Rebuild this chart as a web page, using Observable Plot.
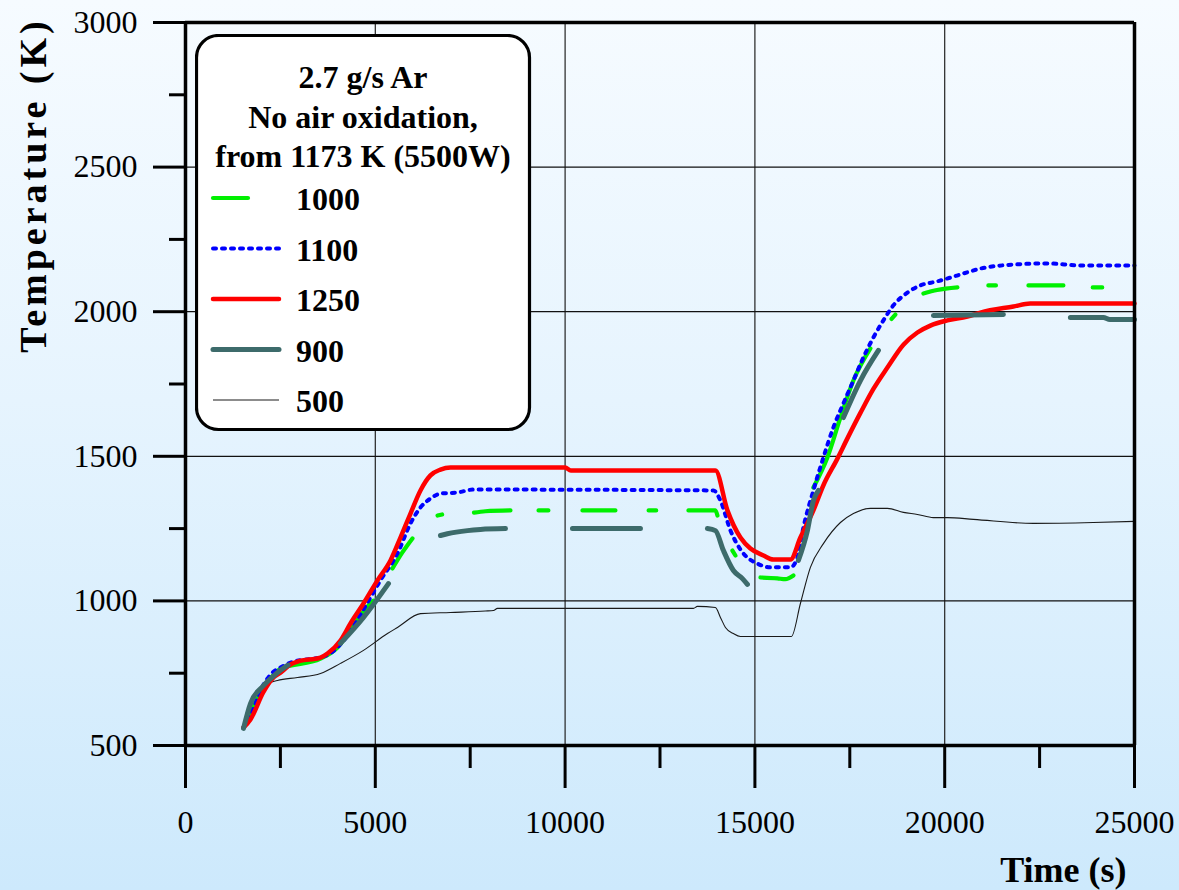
<!DOCTYPE html>
<html><head><meta charset="utf-8">
<script src="https://cdn.jsdelivr.net/npm/d3@7"></script>
<script src="https://cdn.jsdelivr.net/npm/@observablehq/plot@0.6"></script>
<style>
html,body{margin:0;padding:0;}
body{width:1179px;height:890px;overflow:hidden;position:relative;
  background:linear-gradient(to bottom,#f6fbff 0%,#e6f4fe 45%,#cde9fc 100%);
  font-family:"Liberation Serif","Times New Roman",serif;}
#chart{position:absolute;left:0;top:0;}
#legend{position:absolute;left:195px;top:34px;}
</style></head><body>
<div id="chart"></div>
<svg id="legend" width="337" height="398"></svg>
<script>
// ---- data (time in s, temperature in K); NaN marks a gap in the recorded trace ----
const seriesNames = ["1000", "1100", "1250", "900", "500"];
const legendTitle = ["2.7 g/s Ar", "No air oxidation,", "from 1173 K (5500W)"];
const xTicks = [0, 5000, 10000, 15000, 20000, 25000];
const xMinorTicks = [2500, 7500, 12500, 17500, 22500];
const yTicks = [500, 1000, 1500, 2000, 2500, 3000];
const yMinorTicks = [750, 1250, 1750, 2250, 2750];

const t1250 = [1528,1712,2054,2318,2502,2766,2950,3556,3740,4083,4346,4689,5057,5400,5663,5927,6190,6453,6717,6980,10000,10150,13960,14276,14619,14882,15225,15488,15936,16199,16541,16805,17174,17437,17780,18122,18491,18913,19281,19623,20071,20598,20940,21810,22254,25000];
const T1250 = [562,590,685,735,752,780,790,804,818,863,922,991,1071,1140,1219,1302,1382,1434,1454,1461,1461,1451,1451,1313,1219,1181,1157,1143,1143,1219,1313,1400,1492,1562,1650,1733,1807,1886,1928,1952,1970,1983,1997,2018,2028,2028];

const t1100 = [1528,1712,2054,2318,2502,2845,3556,3767,4267,4689,4873,5136,5584,5927,6190,6453,6717,7164,7586,13908,14092,14355,14698,15067,15409,15936,16120,16278,16541,16805,17068,17332,17595,17859,18122,18385,18649,19018,19360,19808,20150,20493,20940,21810,22706,23574,25000];
const T1100 = [562,605,710,755,770,790,805,815,880,970,1012,1071,1164,1268,1323,1354,1371,1375,1385,1382,1347,1244,1164,1129,1116,1116,1150,1254,1382,1496,1600,1683,1762,1842,1911,1970,2022,2066,2091,2105,2118,2132,2149,2163,2167,2160,2160];

const t1000 = [1528,1975,2502,3556,4004,4400,4820,4952,NaN,5452,5700,5979,NaN,6640,6760,NaN,7600,7900,8560,NaN,9300,9560,NaN,10457,11326,NaN,12200,12400,NaN,13249,13960,14013,NaN,14408,14487,NaN,15146,15593,15800,16015,NaN,16541,16910,17253,17595,18043,NaN,18600,18700,NaN,19439,19800,20335,NaN,21150,21350,NaN,22206,23127,NaN,23900,24150];
const T1000 = [562,680,765,800,839,910,984,1001,NaN,1112,1165,1216,NaN,1295,1299,NaN,1305,1310,1313,NaN,1313,1313,NaN,1313,1313,NaN,1313,1313,NaN,1313,1313,1295,NaN,1174,1157,NaN,1081,1078,1075,1088,NaN,1392,1496,1634,1762,1873,NaN,1975,1990,NaN,2063,2075,2084,NaN,2091,2091,NaN,2091,2091,NaN,2084,2084];

const t900 = [1528,1712,2054,2318,2502,2700,NaN,4083,4689,5347,NaN,6717,6900,7428,7770,8429,NaN,10194,11985,NaN,13749,13960,14171,14434,14672,14803,NaN,16146,16383,16541,16673,NaN,17332,17780,18254,NaN,19702,21546,NaN,23311,24180,24350,25000];
const T900 = [559,645,707,740,760,778,NaN,853,943,1060,NaN,1226,1232,1243,1247,1250,NaN,1250,1250,NaN,1250,1243,1174,1105,1077,1057,NaN,1140,1243,1347,1382,NaN,1634,1762,1866,NaN,1987,1990,NaN,1980,1980,1973,1973];

const t500 = [1528,1712,2054,2423,2950,3556,4083,4689,5321,5584,6190,6980,7900,8113,8218,13381,13486,13960,14092,14224,14434,14619,15962,16199,16462,16805,17253,17595,18043,18491,18913,19281,19702,20071,20756,22337,23917,25000];
const T500 = [559,645,707,725,735,749,784,829,887,908,956,960,965,967,974,974,981,977,943,908,887,877,877,991,1116,1198,1271,1302,1320,1320,1306,1299,1288,1288,1282,1268,1271,1275];

// ---- build tables ----
const toRows = (ts, Ts) => ts.map((t, i) => ({t, T: Ts[i]}));
const rows = {
  "1000": toRows(t1000, T1000),
  "1100": toRows(t1100, T1100),
  "1250": toRows(t1250, T1250),
  "900": toRows(t900, T900),
  "500": toRows(t500, T500)
};

// ---- styles ----
const styles = {
  "1000": {stroke: "#00f000", strokeWidth: 4.2, strokeLinecap: "round"},
  "1100": {stroke: "#0000ff", strokeWidth: 4, strokeDasharray: "3,6", strokeLinecap: "round"},
  "1250": {stroke: "#ff0000", strokeWidth: 4.5, strokeLinecap: "round"},
  "900": {stroke: "#3d6b6b", strokeWidth: 5, strokeLinecap: "round"},
  "500": {stroke: "#1a1a1a", strokeWidth: 1.1, strokeLinecap: "butt"}
};
const drawOrder = ["500", "1000", "1100", "1250", "900"];
const font = "Liberation Serif";

const chart = Plot.plot({
  width: 1179, height: 890,
  marginLeft: 185, marginRight: 45, marginTop: 22, marginBottom: 145,
  style: {background: "transparent", fontFamily: font, fontSize: "32px", color: "black", overflow: "visible"},
  x: {domain: [0, 25000]},
  y: {domain: [500, 3000]},
  marks: [
    Plot.gridX([5000, 10000, 15000, 20000], {stroke: "#222", strokeOpacity: 1, strokeWidth: 1.2}),
    Plot.gridY([1000, 1500, 2000, 2500], {stroke: "#111", strokeOpacity: 1, strokeWidth: 1.2}),
    ...drawOrder.map(k => Plot.line(rows[k], {x: "t", y: "T", curve: "monotone-x", ...styles[k]})),
    Plot.ruleX([0, 25000], {stroke: "black", strokeWidth: 3.5}),
    Plot.ruleY([500, 3000], {stroke: "black", strokeWidth: 3.5}),
    Plot.axisX({ticks: xTicks, tickSize: 43, tickPadding: 22, strokeWidth: 3, tickFormat: d => String(d),
      fontSize: 32, fontFamily: font, label: null}),
    Plot.axisX({ticks: xMinorTicks, tickSize: 23, strokeWidth: 3, tickFormat: () => "", label: null}),
    Plot.axisY({ticks: yTicks, tickSize: 32, tickPadding: 16, strokeWidth: 3, tickFormat: d => String(d),
      fontSize: 32, fontFamily: font, label: null}),
    Plot.axisY({ticks: yMinorTicks, tickSize: 16, strokeWidth: 3, tickFormat: () => "", label: null}),
    Plot.text(["Temperature (K)"], {frameAnchor: "left", dx: -152, dy: -199, rotate: -90,
      fontSize: 38, fontWeight: "bold", fontFamily: font, textAnchor: "middle", lineAnchor: "middle"}),
    Plot.text(["Time (s)"], {frameAnchor: "bottom-right", dx: -8, dy: 125,
      fontSize: 36, fontWeight: "bold", fontFamily: font, textAnchor: "end", lineAnchor: "middle"})
  ]
});
document.getElementById("chart").appendChild(chart);
d3.select(chart).selectAll("text")
  .filter(function () { return this.textContent === "Temperature (K)"; })
  .attr("letter-spacing", "4px");

// ---- legend ----
const lg = d3.select("#legend");
lg.append("rect").attr("x", 1.5).attr("y", 1.5).attr("width", 333).attr("height", 394)
  .attr("rx", 22).attr("fill", "white").attr("stroke", "black").attr("stroke-width", 3.2);
legendTitle.forEach((s, i) => {
  lg.append("text").attr("x", 168).attr("y", 43 + i * 39.5).attr("text-anchor", "middle")
    .attr("dominant-baseline", "central").attr("font-family", font).attr("font-weight", "bold")
    .attr("font-size", 32).text(s);
});
seriesNames.forEach((k, i) => {
  const y = 165 + i * 50.5;
  const st = styles[k];
  lg.append("line").attr("x1", 18).attr("x2", k === "1000" ? 53 : 84).attr("y1", y - 1).attr("y2", y - 1)
    .attr("stroke", st.stroke).attr("stroke-width", st.strokeWidth)
    .attr("stroke-dasharray", st.strokeDasharray || null)
    .attr("stroke-linecap", st.strokeLinecap || "round");
  lg.append("text").attr("x", 101).attr("y", y).attr("dominant-baseline", "central")
    .attr("font-family", font).attr("font-weight", "bold").attr("font-size", 32).text(k);
});
</script>
</body></html>
